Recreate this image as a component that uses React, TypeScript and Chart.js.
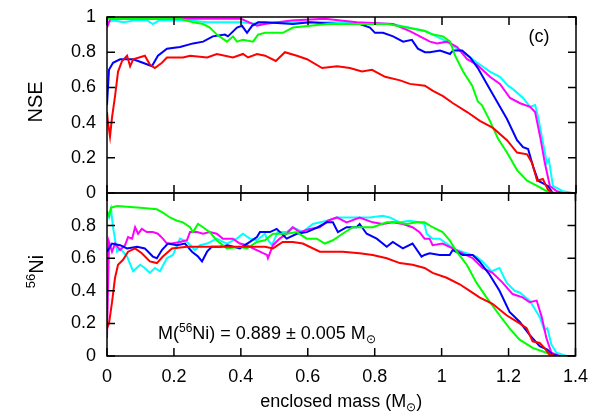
import { useEffect, useRef } from 'react';
import { Chart, registerables } from 'chart.js';

Chart.register(...registerables);

const FONT = '"Liberation Sans", Arial, Helvetica, sans-serif';

// ---- axis ticks ----
const massTicks = [0, 0.2, 0.4, 0.6, 0.8, 1, 1.2, 1.4];
const massTickLabels = ['0', '0.2', '0.4', '0.6', '0.8', '1', '1.2', '1.4'];
const nseTicks = [0, 0.2, 0.4, 0.6, 0.8, 1];
const nseTickLabels = ['0', '0.2', '0.4', '0.6', '0.8', '1'];
const niTicks = [0, 0.2, 0.4, 0.6, 0.8];
const niTickLabels = ['0', '0.2', '0.4', '0.6', '0.8'];

const seriesColors = ['#ff0000', '#00ff00', '#0000ff', '#ff00ff', '#00ffff'];

// ---- NSE panel: [enclosed mass, NSE] ----
const nseRed = [[0,0.46],[0.003,0.40],[0.009,0.32],[0.015,0.43],[0.024,0.55],[0.033,0.69],[0.045,0.75],[0.06,0.78],[0.069,0.72],[0.078,0.76],[0.113,0.78],[0.128,0.73],[0.143,0.71],[0.164,0.74],[0.179,0.77],[0.227,0.77],[0.248,0.78],[0.299,0.77],[0.328,0.79],[0.376,0.77],[0.406,0.79],[0.421,0.77],[0.448,0.79],[0.472,0.78],[0.504,0.75],[0.531,0.80],[0.567,0.78],[0.597,0.76],[0.642,0.71],[0.687,0.72],[0.725,0.71],[0.761,0.69],[0.791,0.70],[0.83,0.66],[0.875,0.64],[0.904,0.62],[0.949,0.61],[0.973,0.58],[1.003,0.55],[1.033,0.51],[1.075,0.46],[1.113,0.41],[1.152,0.37],[1.194,0.30],[1.224,0.23],[1.254,0.22],[1.269,0.17],[1.284,0.07],[1.301,0.08],[1.316,0.02],[1.331,0],[1.4,0]];
const nseGreen = [[0,0.99],[0.1,0.99],[0.218,0.99],[0.257,0.97],[0.287,0.96],[0.307,0.94],[0.328,0.90],[0.358,0.86],[0.376,0.89],[0.388,0.86],[0.406,0.87],[0.436,0.86],[0.451,0.90],[0.472,0.91],[0.525,0.91],[0.555,0.94],[0.606,0.95],[0.657,0.96],[0.704,0.96],[0.755,0.96],[0.836,0.96],[0.896,0.94],[0.949,0.92],[0.973,0.90],[1.003,0.89],[1.024,0.86],[1.039,0.78],[1.063,0.69],[1.09,0.61],[1.107,0.52],[1.119,0.50],[1.143,0.41],[1.167,0.31],[1.194,0.23],[1.224,0.13],[1.254,0.07],[1.284,0.04],[1.313,0.01],[1.34,0],[1.4,0]];
const nseBlue = [[0,0.50],[0.006,0.70],[0.018,0.74],[0.039,0.76],[0.078,0.76],[0.107,0.74],[0.134,0.72],[0.152,0.78],[0.179,0.82],[0.218,0.83],[0.257,0.85],[0.287,0.86],[0.316,0.89],[0.352,0.90],[0.361,0.89],[0.388,0.94],[0.403,0.95],[0.418,0.91],[0.433,0.95],[0.451,0.97],[0.472,0.97],[0.555,0.96],[0.606,0.97],[0.687,0.96],[0.755,0.96],[0.785,0.94],[0.80,0.91],[0.824,0.91],[0.854,0.89],[0.884,0.86],[0.91,0.87],[0.928,0.82],[0.949,0.80],[0.964,0.80],[0.994,0.81],[1.024,0.79],[1.033,0.81],[1.06,0.81],[1.084,0.77],[1.107,0.71],[1.134,0.62],[1.164,0.52],[1.194,0.42],[1.224,0.30],[1.242,0.26],[1.257,0.25],[1.272,0.15],[1.287,0.07],[1.316,0.04],[1.331,0],[1.4,0]];
const nseMagenta = [[0,0.94],[0.01,0.99],[0.2,0.99],[0.4,0.99],[0.448,0.95],[0.47,0.96],[0.55,0.98],[0.65,0.99],[0.746,0.97],[0.854,0.96],[0.904,0.92],[0.934,0.89],[0.964,0.86],[0.985,0.85],[1.015,0.86],[1.045,0.83],[1.075,0.76],[1.104,0.73],[1.143,0.66],[1.173,0.62],[1.203,0.54],[1.233,0.51],[1.263,0.49],[1.278,0.46],[1.293,0.32],[1.307,0.17],[1.322,0.04],[1.343,0.01],[1.36,0],[1.4,0]];
const nseCyan = [[0,0.97],[0.02,0.98],[0.05,0.97],[0.08,0.98],[0.12,0.98],[0.137,0.96],[0.155,0.98],[0.2,0.98],[0.25,0.98],[0.3,0.97],[0.35,0.97],[0.4,0.97],[0.45,0.96],[0.5,0.97],[0.6,0.97],[0.7,0.97],[0.85,0.96],[0.949,0.92],[0.973,0.90],[1.015,0.86],[1.045,0.82],[1.084,0.77],[1.113,0.73],[1.143,0.69],[1.173,0.66],[1.197,0.61],[1.212,0.59],[1.242,0.54],[1.263,0.49],[1.278,0.50],[1.287,0.43],[1.301,0.29],[1.313,0.17],[1.319,0.19],[1.331,0.04],[1.361,0.01],[1.391,0],[1.4,0]];

// ---- 56Ni panel: [enclosed mass, X(56Ni)] ----
const niRed = [[0,0.17],[0.006,0.20],[0.015,0.33],[0.024,0.48],[0.033,0.56],[0.048,0.59],[0.063,0.64],[0.084,0.66],[0.104,0.63],[0.128,0.58],[0.149,0.57],[0.167,0.61],[0.194,0.66],[0.239,0.67],[0.3,0.67],[0.36,0.67],[0.42,0.67],[0.472,0.67],[0.496,0.66],[0.525,0.70],[0.555,0.70],[0.585,0.69],[0.636,0.64],[0.704,0.64],[0.755,0.63],[0.794,0.62],[0.836,0.60],[0.875,0.57],[0.913,0.56],[0.949,0.54],[0.973,0.51],[1.015,0.48],[1.054,0.44],[1.084,0.40],[1.113,0.36],[1.152,0.32],[1.194,0.25],[1.233,0.20],[1.254,0.17],[1.272,0.09],[1.293,0.08],[1.307,0.05],[1.322,0.01],[1.34,0],[1.4,0]];
const niGreen = [[0,0.89],[0.006,0.86],[0.012,0.91],[0.03,0.92],[0.1,0.91],[0.149,0.90],[0.167,0.88],[0.188,0.85],[0.209,0.83],[0.227,0.82],[0.248,0.79],[0.257,0.76],[0.272,0.81],[0.287,0.79],[0.307,0.76],[0.328,0.71],[0.358,0.66],[0.397,0.67],[0.418,0.66],[0.448,0.70],[0.472,0.71],[0.496,0.75],[0.537,0.75],[0.567,0.76],[0.597,0.72],[0.627,0.72],[0.651,0.69],[0.675,0.71],[0.704,0.75],[0.734,0.79],[0.794,0.79],[0.836,0.82],[0.866,0.82],[0.896,0.81],[0.925,0.82],[0.949,0.82],[0.973,0.79],[1.003,0.76],[1.024,0.71],[1.045,0.64],[1.075,0.56],[1.104,0.45],[1.134,0.36],[1.173,0.25],[1.203,0.17],[1.233,0.10],[1.272,0.05],[1.313,0.02],[1.331,0],[1.4,0]];
const niBlue = [[0,0.64],[0.015,0.69],[0.039,0.68],[0.06,0.66],[0.09,0.67],[0.113,0.66],[0.137,0.61],[0.149,0.60],[0.164,0.65],[0.182,0.69],[0.209,0.68],[0.233,0.69],[0.254,0.64],[0.272,0.61],[0.284,0.58],[0.299,0.64],[0.313,0.67],[0.337,0.67],[0.361,0.68],[0.397,0.66],[0.427,0.70],[0.448,0.73],[0.457,0.76],[0.487,0.76],[0.507,0.78],[0.537,0.72],[0.567,0.75],[0.597,0.76],[0.63,0.79],[0.657,0.82],[0.675,0.82],[0.69,0.76],[0.716,0.79],[0.746,0.79],[0.755,0.81],[0.776,0.75],[0.806,0.72],[0.836,0.67],[0.854,0.70],[0.884,0.66],[0.913,0.69],[0.94,0.61],[0.949,0.62],[0.964,0.63],[0.994,0.62],[1.024,0.62],[1.033,0.65],[1.063,0.62],[1.093,0.62],[1.113,0.58],[1.143,0.50],[1.173,0.40],[1.203,0.27],[1.233,0.21],[1.263,0.13],[1.293,0.06],[1.316,0.04],[1.331,0.01],[1.35,0],[1.4,0]];
const niMagenta = [[0,0.11],[0.006,0.70],[0.015,0.64],[0.024,0.69],[0.039,0.65],[0.054,0.68],[0.063,0.73],[0.075,0.72],[0.084,0.79],[0.093,0.75],[0.104,0.78],[0.119,0.76],[0.137,0.76],[0.152,0.75],[0.167,0.72],[0.179,0.69],[0.194,0.69],[0.218,0.70],[0.239,0.71],[0.248,0.76],[0.269,0.76],[0.287,0.75],[0.307,0.76],[0.328,0.75],[0.346,0.72],[0.376,0.72],[0.397,0.69],[0.418,0.68],[0.436,0.66],[0.457,0.64],[0.478,0.62],[0.481,0.60],[0.496,0.68],[0.516,0.72],[0.537,0.75],[0.555,0.79],[0.576,0.76],[0.606,0.78],[0.636,0.79],[0.66,0.83],[0.687,0.85],[0.716,0.82],[0.755,0.85],[0.794,0.82],[0.824,0.81],[0.854,0.82],[0.884,0.81],[0.913,0.79],[0.934,0.76],[0.949,0.72],[0.964,0.72],[0.973,0.68],[1.003,0.69],[1.033,0.66],[1.063,0.63],[1.093,0.60],[1.122,0.54],[1.152,0.51],[1.182,0.45],[1.212,0.38],[1.242,0.36],[1.263,0.33],[1.284,0.34],[1.299,0.24],[1.313,0.11],[1.328,0.02],[1.352,0],[1.4,0]];
const niCyan = [[0,0.88],[0.006,0.85],[0.012,0.90],[0.018,0.79],[0.03,0.64],[0.039,0.66],[0.06,0.61],[0.078,0.52],[0.099,0.56],[0.113,0.54],[0.128,0.51],[0.143,0.54],[0.158,0.52],[0.179,0.60],[0.197,0.62],[0.218,0.72],[0.239,0.70],[0.263,0.65],[0.278,0.68],[0.299,0.69],[0.328,0.72],[0.358,0.69],[0.388,0.72],[0.406,0.75],[0.427,0.72],[0.448,0.71],[0.472,0.75],[0.478,0.72],[0.493,0.68],[0.51,0.76],[0.537,0.76],[0.555,0.79],[0.585,0.76],[0.615,0.81],[0.657,0.83],[0.687,0.85],[0.716,0.85],[0.746,0.85],[0.785,0.85],[0.824,0.86],[0.845,0.85],[0.875,0.82],[0.904,0.83],[0.934,0.82],[0.949,0.81],[0.955,0.75],[0.973,0.72],[0.994,0.72],[1.015,0.69],[1.045,0.65],[1.075,0.63],[1.104,0.61],[1.122,0.58],[1.149,0.52],[1.173,0.54],[1.194,0.45],[1.218,0.40],[1.233,0.39],[1.263,0.34],[1.278,0.29],[1.293,0.24],[1.307,0.16],[1.316,0.17],[1.328,0.07],[1.343,0.02],[1.373,0],[1.4,0]];

const nseSeries = [nseRed, nseGreen, nseBlue, nseMagenta, nseCyan];
const niSeries = [niRed, niGreen, niBlue, niMagenta, niCyan];

type Part = { t: string; size: number; dy: number };

function drawParts(ctx: CanvasRenderingContext2D, parts: Part[], x: number, y: number, center: boolean) {
  let w = 0;
  for (const p of parts) {
    ctx.font = `${p.size}px ${FONT}`;
    w += ctx.measureText(p.t).width;
  }
  let cx = center ? x - w / 2 : x;
  ctx.textAlign = 'left';
  ctx.textBaseline = 'alphabetic';
  for (const p of parts) {
    ctx.font = `${p.size}px ${FONT}`;
    ctx.fillText(p.t, cx, y + p.dy);
    cx += ctx.measureText(p.t).width;
  }
}

function framePlugin(xTicks: number[], yTicks: number[]) {
  return {
    id: 'frame',
    afterDatasetsDraw(chart: any) {
      const { ctx, chartArea: a, scales } = chart;
      ctx.save();
      ctx.strokeStyle = '#000';
      ctx.lineWidth = 1.5;
      ctx.strokeRect(a.left, a.top, a.right - a.left, a.bottom - a.top);
      const L = 8;
      ctx.beginPath();
      for (const v of xTicks) {
        const px = scales.x.getPixelForValue(v);
        ctx.moveTo(px, a.bottom);
        ctx.lineTo(px, a.bottom - L);
        ctx.moveTo(px, a.top);
        ctx.lineTo(px, a.top + L);
      }
      for (const v of yTicks) {
        const py = scales.y.getPixelForValue(v);
        ctx.moveTo(a.left, py);
        ctx.lineTo(a.left + L, py);
        ctx.moveTo(a.right, py);
        ctx.lineTo(a.right - L, py);
      }
      ctx.stroke();
      ctx.restore();
    },
  };
}

function textPlugin(draw: (ctx: CanvasRenderingContext2D, a: any) => void) {
  return {
    id: 'texts',
    afterDraw(chart: any) {
      const ctx = chart.ctx as CanvasRenderingContext2D;
      ctx.save();
      ctx.fillStyle = '#000';
      draw(ctx, chart.chartArea);
      ctx.restore();
    },
  };
}

function makeDatasets(series: number[][][]) {
  return series.map((s, i) => ({
    data: s.map(([x, y]) => ({ x, y })),
    borderColor: seriesColors[i],
    backgroundColor: seriesColors[i],
    borderWidth: 2,
    pointRadius: 0,
    fill: false,
    tension: 0,
  }));
}

function yScale(ticks: number[], labels: string[]) {
  return {
    type: 'linear' as const,
    min: 0,
    max: 1,
    afterBuildTicks: (s: any) => {
      s.ticks = ticks.map((v) => ({ value: v }));
    },
    afterFit: (s: any) => {
      s.width = 107;
      s.paddingTop = 0;
      s.paddingBottom = 0;
    },
    grid: { display: false, drawTicks: false },
    border: { display: false },
    ticks: {
      font: { family: FONT, size: 18 },
      color: '#000',
      padding: 11,
      callback: (_v: any, i: number) => labels[i],
    },
  };
}

const TOP_H = 230;
const BOT_TOP = 170;
const BOT_H = 419 - BOT_TOP;

export default function App() {
  const topRef = useRef<HTMLCanvasElement>(null);
  const botRef = useRef<HTMLCanvasElement>(null);

  useEffect(() => {
    const top = new Chart(topRef.current!, {
      type: 'line',
      data: { datasets: makeDatasets(nseSeries) as any },
      options: {
        animation: false,
        responsive: false,
        devicePixelRatio: 1,
        events: [],
        layout: { padding: { top: 17, right: 22, bottom: TOP_H - 193, left: 0 } },
        plugins: { legend: { display: false }, tooltip: { enabled: false } },
        scales: {
          x: { type: 'linear', min: 0, max: 1.4, display: false },
          y: yScale(nseTicks, nseTickLabels) as any,
        },
      },
      plugins: [
        framePlugin(massTicks, nseTicks),
        textPlugin((ctx, a) => {
          ctx.save();
          ctx.translate(42, (a.top + a.bottom) / 2 - 3);
          ctx.rotate(-Math.PI / 2);
          drawParts(ctx, [{ t: 'NSE', size: 20, dy: 0 }], 0, 0, true);
          ctx.restore();
          drawParts(ctx, [{ t: '(c)', size: 18, dy: 0 }], a.right - 37, a.top + 25, true);
        }),
      ],
    });

    const bot = new Chart(botRef.current!, {
      type: 'line',
      data: { datasets: makeDatasets(niSeries) as any },
      options: {
        animation: false,
        responsive: false,
        devicePixelRatio: 1,
        events: [],
        layout: { padding: { top: 193 - BOT_TOP, right: 22, bottom: 0, left: 0 } },
        plugins: { legend: { display: false }, tooltip: { enabled: false } },
        scales: {
          x: {
            type: 'linear',
            min: 0,
            max: 1.4,
            afterBuildTicks: (s: any) => {
              s.ticks = massTicks.map((v) => ({ value: v }));
            },
            afterFit: (s: any) => {
              s.height = 419 - 356;
            },
            grid: { display: false, drawTicks: false },
            border: { display: false },
            ticks: {
              font: { family: FONT, size: 18 },
              color: '#000',
              padding: 10,
              maxRotation: 0,
              minRotation: 0,
              autoSkip: false,
              callback: (_v: any, i: number) => massTickLabels[i],
            },
          },
          y: yScale(niTicks, niTickLabels) as any,
        },
      },
      plugins: [
        framePlugin(massTicks, niTicks),
        textPlugin((ctx, a) => {
          ctx.save();
          ctx.translate(43, (a.top + a.bottom) / 2 - 3);
          ctx.rotate(-Math.PI / 2);
          drawParts(ctx, [{ t: '56', size: 13, dy: -8 }, { t: 'Ni', size: 20, dy: 0 }], 0, 0, true);
          ctx.restore();
          drawParts(
            ctx,
            [
              { t: 'M(', size: 18, dy: 0 },
              { t: '56', size: 12, dy: -7 },
              { t: 'Ni) = 0.889 \u00b1 0.005 M', size: 18, dy: 0 },
              { t: '\u2299', size: 12, dy: 4 },
            ],
            a.left + 51,
            a.bottom - 17,
            false
          );
          drawParts(
            ctx,
            [
              { t: 'enclosed mass (M', size: 18, dy: 0 },
              { t: '\u2299', size: 12, dy: 4 },
              { t: ')', size: 18, dy: 0 },
            ],
            (a.left + a.right) / 2,
            407 - BOT_TOP,
            true
          );
        }),
      ],
    });

    return () => {
      top.destroy();
      bot.destroy();
    };
  }, []);

  return (
    <div style={{ position: 'fixed', left: 0, top: 0, width: 598, height: 419, background: '#fff', overflow: 'hidden' }}>
      <canvas ref={topRef} width={598} height={TOP_H} style={{ position: 'absolute', left: 0, top: 0, width: 598, height: TOP_H }} />
      <canvas ref={botRef} width={598} height={BOT_H} style={{ position: 'absolute', left: 0, top: BOT_TOP, width: 598, height: BOT_H }} />
    </div>
  );
}
